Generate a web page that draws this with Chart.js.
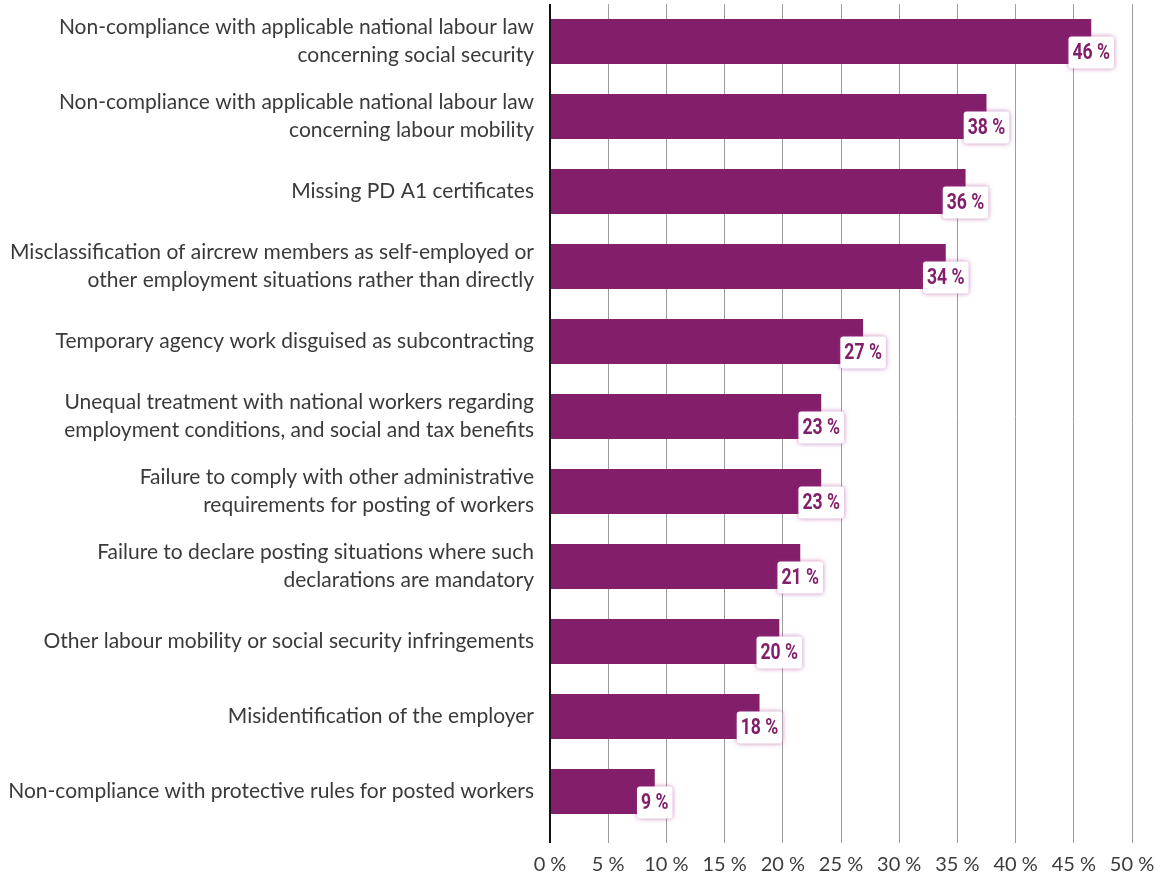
<!DOCTYPE html>
<html>
<head>
<meta charset="utf-8">
<script src="https://cdn.jsdelivr.net/npm/chart.js@4"></script>
<style>
  html, body { margin: 0; padding: 0; background: #fff; }
  #wrap { width: 1170px; height: 877px; }
</style>
</head>
<body>
<div id="wrap"><canvas id="grafico"></canvas></div>
<script>
// categorias (linhas do rótulo)
const categorias = [
    ['Non-compliance with applicable national labour law', 'concerning social security'],
    ['Non-compliance with applicable national labour law', 'concerning labour mobility'],
    'Missing PD A1 certificates',
    ['Misclassification of aircrew members as self-employed or', 'other employment situations rather than directly'],
    'Temporary agency work disguised as subcontracting',
    ['Unequal treatment with national workers regarding', 'employment conditions, and social and tax benefits'],
    ['Failure to comply with other administrative', 'requirements for posting of workers'],
    ['Failure to declare posting situations where such', 'declarations are mandatory'],
    'Other labour mobility or social security infringements',
    'Misidentification of the employer',
    'Non-compliance with protective rules for posted workers'
];
const valores = [46.5, 37.5, 35.7, 34.0, 26.9, 23.3, 23.3, 21.5, 19.7, 18.0, 9.0];
const rotulosValores = ['46 %', '38 %', '36 %', '34 %', '27 %', '23 %', '23 %', '21 %', '20 %', '18 %', '9 %'];
const ticksX = [0, 5, 10, 15, 20, 25, 30, 35, 40, 45, 50];

const roxo = '#821e6a';

// caixas brancas com o valor no fim de cada barra
const rotulosPlugin = {
    id: 'rotulos',
    afterDatasetsDraw(chart) {
        const ctx = chart.ctx;
        const meta = chart.getDatasetMeta(0);
        const aperto = 0.8; // texto condensado
        ctx.save();
        ctx.font = "bold 22px Roboto, sans-serif";
        ctx.textAlign = 'center';
        ctx.textBaseline = 'middle';
        meta.data.forEach((bar, i) => {
            const txt = rotulosValores[i];
            const w = ctx.measureText(txt).width * aperto + 8;
            const h = 32;
            const cx = bar.x;
            const cy = bar.y + 11;
            ctx.save();
            ctx.shadowColor = 'rgba(160, 50, 140, 0.6)';
            ctx.shadowBlur = 5;
            ctx.fillStyle = '#fff';
            ctx.beginPath();
            ctx.roundRect(cx - w / 2, cy - h / 2, w, h, 3);
            ctx.fill();
            ctx.restore();
            ctx.save();
            ctx.translate(cx, cy + 1);
            ctx.scale(aperto, 1);
            ctx.fillStyle = roxo;
            ctx.fillText(txt, 0, 0);
            ctx.restore();
        });
        ctx.restore();
    }
};

const ctx = document.getElementById('grafico').getContext('2d');

new Chart(ctx, {
    type: 'bar',
    data: {
        labels: categorias,
        datasets: [{
            data: valores,
            backgroundColor: roxo,
            borderWidth: 0,
            barPercentage: 0.6,
            categoryPercentage: 1.0
        }]
    },
    options: {
        indexAxis: 'y',
        responsive: true,
        maintainAspectRatio: false,
        animation: false,
        plugins: {
            legend: { display: false },
            tooltip: { enabled: false }
        },
        layout: {
            padding: { left: 0, right: 38, top: 4, bottom: 0 }
        },
        scales: {
            x: {
                min: 0,
                max: 50,
                afterBuildTicks(scale) {
                    scale.ticks = ticksX.map(v => ({ value: v }));
                },
                afterFit(scale) {
                    scale.height = 48;
                },
                ticks: {
                    callback: v => v + ' %',
                    color: '#3c3c3c',
                    padding: 10,
                    font: { size: 20, family: "Lato, 'Open Sans', sans-serif" }
                },
                grid: {
                    color: c => c.index === 0 ? '#111' : '#9c9c9c',
                    lineWidth: c => c.index === 0 ? 2 : 1,
                    drawTicks: true,
                    tickLength: 14
                },
                border: { display: false }
            },
            y: {
                afterFit(scale) {
                    scale.width = 550;
                    scale.paddingTop = 0;
                    scale.paddingBottom = 0;
                },
                ticks: {
                    color: '#3a3a3a',
                    padding: 8,
                    font: { size: 21, family: "Lato, 'Open Sans', sans-serif", lineHeight: 1.33 }
                },
                grid: { display: false },
                border: { display: false }
            }
        }
    },
    plugins: [rotulosPlugin]
});
</script>
</body>
</html>
